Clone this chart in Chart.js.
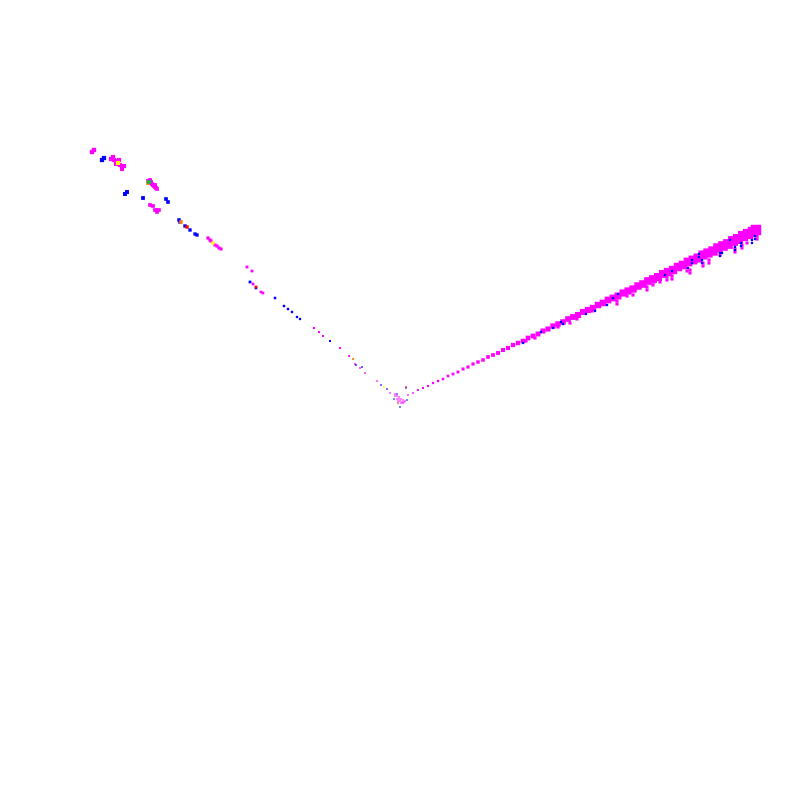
<!DOCTYPE html>
<html>
<head>
<meta charset="utf-8">
<script src="https://cdn.jsdelivr.net/npm/chart.js@4/dist/chart.umd.min.js"></script>
<style>
body { margin: 0; background: #fff; }
#wrap { width: 800px; height: 800px; }
</style>
</head>
<body>
<div id="wrap"><canvas id="scatterChart" width="800" height="800"></canvas></div>
<script>
// values, origin in the middle of the plot
const armX = [8,13,18,23,28,33,38,43,48,53,58,63,68,73,78,83,88,93,98,103,108,113,118,123,128,133,138,143,148,153,158,163,168,173,178,183,188,193,198,203,208,213,218,223,228,233,238,243,248,253,258,263,268,273,278,283,288,293,298,303,308,313,318,323,328,333,338,343,348,353,356];
const armY = [5,7,10,12,14,17,19,21,24,26,28,31,33,36,38,40,43,45,47,50,52,55,57,59,62,64,66,69,71,74,76,78,81,83,85,88,90,92,95,97,100,102,104,107,109,111,114,116,119,121,123,126,128,130,133,135,138,140,142,145,147,149,152,154,156,159,161,164,166,168,170];

const dripX = [126,135,158,170,177,192,217,217,227,233,247,247,253,254,260,267,267,272,272,287,290,290,303,303,309,309,320,335,335,342,342,347,357,357];
const dripY = [59,62,73,77,81,89,99,96,104,105,113,110,115,118,118,123,120,124,121,129,130,127,137,134,140,137,145,151,148,155,152,157,161,164];

const magentaX = [-308,-306,-289,-287,-286,-284,-283,-282,-280,-278,-276,-278,-284,-281,-252,-250,-249,-248,-247,-246,-245,-244,-243,-245,-249,-250,-247,-243,-245,-241,-243,-192,-190,-189,-185,-183,-181,-179,
  -153,-148,-147,-139,-137,-86,-81,-77,-60,-51,-45,-40,-35,-23,-10,-5,-3,-1,1,3,5,-2,0,2,4,1,3,-1,-3,-5];
const magentaY = [248,250,241,243,240,239,237,237,235,233,234,231,236,240,219,220,217,216,215,214,213,212,211,215,218,195,194,190,190,190,188,162,160,159,155,154,152,151,
  133,129,116,108,107,72,68,64,52,44,36,32,27,19,7,4,1,1,1,0,-1,-1,-1,-2,-2,-3,-3,3,4,6];

const blueX = [-298,-296,-275,-273,-257,-232,-234,-221,-220,-215,-210,-205,-203,-150,-144,-125,-116,-112,-108,-103,-100,-70,-38,-44,-19,-13,-6,7,6,0,-3];
const blueY = [240,242,206,208,202,198,201,180,178,174,170,166,165,118,112,102,94,91,88,83,81,59,33,35,15,11,1,0,12,-7,6];

const blueArmX = [292,292,299,299,302,302,272,265,288,320,320,322,330,335,335,341,341,355,355,352,352,123,141,153,163,161,186,195,207,218,213];
const blueArmY = [140,137,146,143,140,137,129,125,132,147,144,147,160,153,150,157,154,164,161,160,157,57,68,72,76,78,86,89,95,106,102];

const redX = [-213,-144,6,-2];
const redY = [173,113,13,-3];
const orangeX = [-219,-252,-47];
const orangeY = [178,217,41];
const yellowX = [-282,-187,-16];
const yellowY = [237,157,13];
const greenX = [-251];
const greenY = [218];

function points(xs, ys) {
    return xs.map(function(x, i) { return { x: x, y: ys[i] }; });
}

// marks grow with the distance from the origin
function dotSize(ctx) {
    const p = ctx.raw;
    return 0.9 + Math.hypot(p.x, p.y) * 0.0055;
}
function armSize(ctx) {
    return 1.0 + ctx.raw.x * 0.018;
}

function series(xs, ys, color, size) {
    return {
        data: points(xs, ys),
        backgroundColor: color,
        borderWidth: 0,
        pointStyle: "rect",
        pointRadius: size,
        pointHoverRadius: size
    };
}

new Chart("scatterChart", {
    type: "scatter",
    data: {
        datasets: [
            series(greenX, greenY, "#00c040", dotSize),
            series(yellowX, yellowY, "#ffff00", dotSize),
            series(orangeX, orangeY, "#ff8000", dotSize),
            series(redX, redY, "#ff0000", dotSize),
            series(blueArmX, blueArmY, "#0000ff", 1.6),
            series(blueX, blueY, "#0000ff", dotSize),
            series(magentaX, magentaY, "#ff00ff", dotSize),
            series(dripX, dripY, "#ff00ff", 2.2),
            series(armX, armY, "#ff00ff", armSize)
        ]
    },
    options: {
        responsive: false,
        animation: false,
        layout: { padding: 0, autoPadding: false },
        plugins: {
            legend: { display: false },
            title: { display: false },
            tooltip: { enabled: false }
        },
        scales: {
            x: { type: "linear", display: false, min: -400, max: 400 },
            y: { type: "linear", display: false, min: -400, max: 400 }
        }
    }
});
</script>
</body>
</html>
